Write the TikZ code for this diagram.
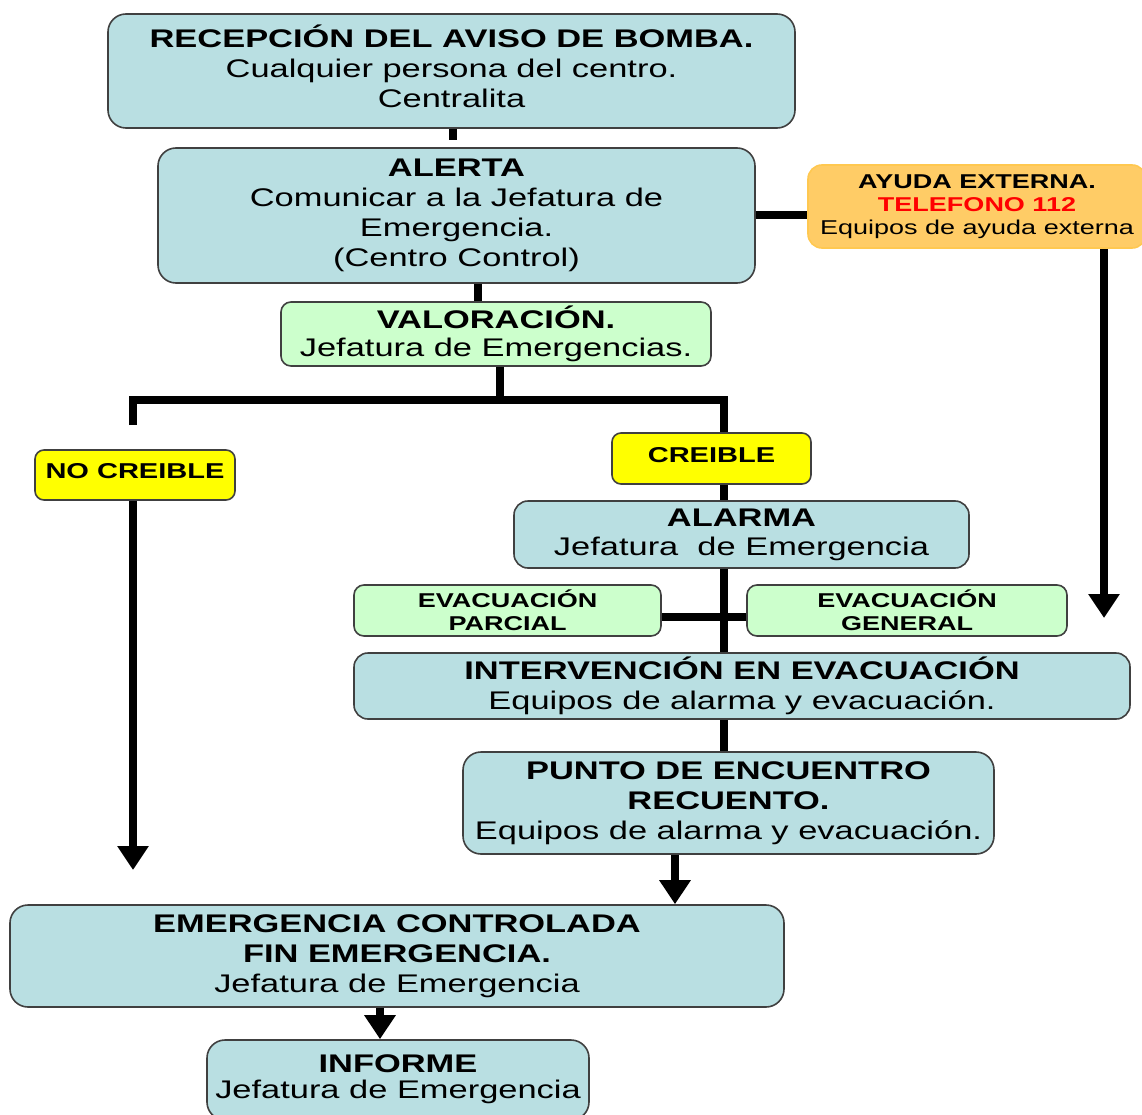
\documentclass[tikz,border=0pt]{standalone}
\usepackage{fontspec}
\setmainfont{Liberation Sans}[FakeStretch=1.35]
\usetikzlibrary{arrows.meta}
\definecolor{boxblue}{RGB}{185,223,226}
\definecolor{boxgreen}{RGB}{204,255,204}
\definecolor{boxyellow}{RGB}{255,255,0}
\definecolor{boxorange}{RGB}{255,204,102}
\definecolor{edgeorange}{RGB}{255,200,80}
\definecolor{edgegray}{RGB}{64,64,64}
\definecolor{telred}{RGB}{255,0,0}
\newcommand\fntA{\fontsize{25.5}{30}\selectfont}
\newcommand\fntB{\fontsize{20}{23}\selectfont}
\newcommand\fntC{\fontsize{21.5}{25}\selectfont}
\begin{document}
\begin{tikzpicture}[x=1pt,y=-1pt,
  base/.style={draw=edgegray, line width=1.6pt, align=center, inner sep=0pt},
  bluebox/.style={base, fill=boxblue, rounded corners=18pt, font=\fntA},
  greenbox/.style={base, fill=boxgreen, rounded corners=10pt},
  yellowbox/.style={base, fill=boxyellow, rounded corners=9pt, font=\fntC\bfseries},
  orangebox/.style={draw=edgeorange, line width=1.6pt, fill=boxorange, rounded corners=14pt, align=center, inner sep=0pt, font=\fntB},
  conn/.style={line width=8pt},
  arr/.style={line width=8pt, -{Triangle[width=30pt,length=24pt]}}]
\useasboundingbox (0,0) rectangle (1142,1115);
\fill[white] (0,0) rectangle (1142,1115);

\node[bluebox, minimum width=687pt, minimum height=114pt] (rec) at (451.5,71)
  {\raisebox{7pt}{\begin{tabular}{@{}c@{}}\textbf{RECEPCIÓN DEL AVISO DE BOMBA.}\\Cualquier persona del centro.\\Centralita\end{tabular}}};
\node[bluebox, minimum width=597pt, minimum height=135pt] (alerta) at (456.5,215.5)
  {\raisebox{-2pt}{\begin{tabular}{@{}c@{}}\textbf{ALERTA}\\Comunicar a la Jefatura de\\Emergencia.\\(Centro Control)\end{tabular}}};
\node[orangebox, minimum width=338pt, minimum height=83pt] (ayuda) at (977,206.5)
  {\textbf{AYUDA EXTERNA.}\\\textcolor{telred}{\textbf{TELEFONO 112}}\\Equipos de ayuda externa};
\node[greenbox, font=\fntA, minimum width=430pt, minimum height=64pt] (val) at (496,334)
  {\textbf{VALORACIÓN.}\\[-2pt]Jefatura de Emergencias.};
\node[yellowbox, minimum width=200pt, minimum height=50pt] (nocre) at (135,475)
  {\raisebox{9pt}{NO CREIBLE}};
\node[yellowbox, minimum width=199pt, minimum height=51pt] (cre) at (711.5,458.5)
  {\raisebox{7pt}{CREIBLE}};
\node[bluebox, minimum width=455pt, minimum height=67pt, rounded corners=14pt] (alarma) at (741.5,534.5)
  {\textbf{ALARMA}\\[-1pt]Jefatura\ \ de Emergencia};
\node[greenbox, font=\fntB\bfseries, minimum width=307pt, minimum height=51pt] (parcial) at (507.5,610.5)
  {EVACUACIÓN\\PARCIAL};
\node[greenbox, font=\fntB\bfseries, minimum width=320pt, minimum height=51pt] (general) at (907,610.5)
  {EVACUACIÓN\\GENERAL};
\node[bluebox, minimum width=776pt, minimum height=66pt, rounded corners=14pt] (interv) at (742,686)
  {\textbf{INTERVENCIÓN EN EVACUACIÓN}\\Equipos de alarma y evacuación.};
\node[bluebox, minimum width=531pt, minimum height=102pt] (punto) at (728.5,803)
  {\textbf{PUNTO DE ENCUENTRO}\\\textbf{RECUENTO.}\\Equipos de alarma y evacuación.};
\node[bluebox, minimum width=774pt, minimum height=102pt] (emerg) at (397,956)
  {\raisebox{-2pt}{\begin{tabular}{@{}c@{}}\textbf{EMERGENCIA CONTROLADA}\\\textbf{FIN EMERGENCIA.}\\Jefatura de Emergencia\end{tabular}}};
\node[bluebox, minimum width=382pt, minimum height=80pt] (informe) at (398,1080)
  {\raisebox{7pt}{\shortstack{\textbf{INFORME}\\[5pt]Jefatura de Emergencia}}};

% helper coordinates
\coordinate (stub) at (453,140);
\coordinate (vx) at (478,0);
\coordinate (split) at (500,400);
\coordinate (bl) at (133,425);
\coordinate (spine) at (724,0);
\coordinate (hy) at (0,617);
\coordinate (ayx) at (1104,618);
\coordinate (ncend) at (133,870);
\coordinate (px) at (675,0);
\coordinate (ix) at (380,0);

% connectors
\draw[conn] (rec.south -| stub) -- (stub);
\draw[conn] (alerta.east) -- (alerta.east -| ayuda.west);
\draw[arr] (ayuda.south -| ayx) -- (ayx);
\draw[conn] (alerta.south -| vx) -- (val.north -| vx);
\draw[conn] (val.south -| split) -- (split);
\draw[conn] (bl) |- (split) -| (cre.north -| spine);
\draw[arr] (nocre.south -| ncend) -- (ncend);
\draw[conn] (cre.south -| spine) -- (alarma.north -| spine);
\draw[conn] (alarma.south -| spine) -- (interv.north -| spine);
\draw[conn] (parcial.east |- hy) -- (general.west |- hy);
\draw[conn] (interv.south -| spine) -- (punto.north -| spine);
\draw[arr] (punto.south -| px) -- (emerg.north -| px);
\draw[arr] (emerg.south -| ix) -- (informe.north -| ix);
\end{tikzpicture}
\end{document}
